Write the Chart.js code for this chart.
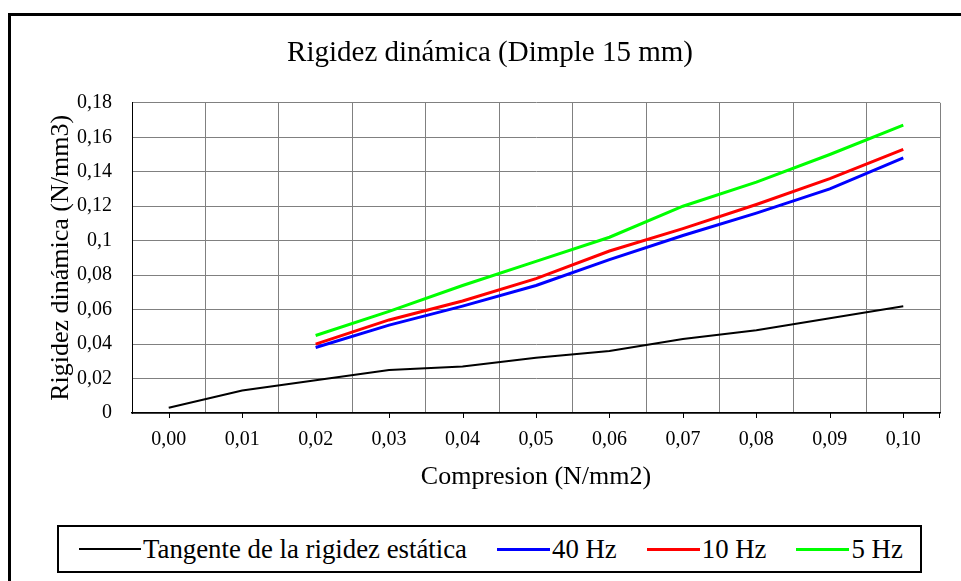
<!DOCTYPE html>
<html>
<head>
<meta charset="utf-8">
<script src="https://cdn.jsdelivr.net/npm/chart.js@4.4.1/dist/chart.umd.min.js"></script>
<style>
    html, body { margin: 0; padding: 0; background: #fff; overflow: hidden; }
    #wrap { position: relative; width: 961px; height: 581px; }
    #frame {
        position: absolute; left: 8px; top: 13px; width: 1000px; height: 1000px;
        border: 3px solid #000; box-sizing: border-box;
    }
    #chart { position: absolute; left: 0; top: 0; }
    #legend {
        position: absolute; left: 57px; top: 525px; width: 865px; height: 48px;
        border: 2px solid #000; box-sizing: border-box; background: #fff;
        display: flex; align-items: center; padding-left: 20px;
        font-family: 'Liberation Serif', serif; font-size: 26.8px; color: #000;
        white-space: nowrap; overflow: hidden;
    }
    .item { display: flex; align-items: center; margin-right: 30px; flex-shrink: 0; }
    .swatch { display: inline-block; width: 53px; height: 3px; margin-right: 2px; flex-shrink: 0; }
</style>
</head>
<body>
<div id="wrap">
    <div id="frame"></div>
    <canvas id="chart" width="961" height="581"></canvas>
    <div id="legend"></div>
</div>
<script>
// Data
const categories = ['0,00', '0,01', '0,02', '0,03', '0,04', '0,05', '0,06', '0,07', '0,08', '0,09', '0,10'];
const tangente = [0.003, 0.013, 0.019, 0.025, 0.027, 0.032, 0.036, 0.043, 0.048, 0.055, 0.062];
const hz40 = [null, null, 0.038, 0.051, 0.062, 0.074, 0.089, 0.103, 0.116, 0.130, 0.148];
const hz10 = [null, null, 0.040, 0.054, 0.065, 0.078, 0.094, 0.107, 0.121, 0.136, 0.153];
const hz5 = [null, null, 0.045, 0.059, 0.074, 0.088, 0.102, 0.120, 0.134, 0.150, 0.167];
const yTickLabels = ['0', '0,02', '0,04', '0,06', '0,08', '0,1', '0,12', '0,14', '0,16', '0,18'];

const FONT = "'Liberation Serif', serif";

// Tick marks at category centres (gridlines sit on the boundaries)
const centreTicks = {
    id: 'centreTicks',
    afterDraw(chart) {
        const x = chart.scales.x;
        const ctx = chart.ctx;
        ctx.save();
        ctx.strokeStyle = '#000';
        ctx.lineWidth = 1;
        ctx.beginPath();
        categories.forEach((c, i) => {
            const px = Math.round(x.getPixelForValue(i)) + 0.5;
            ctx.moveTo(px, x.top);
            ctx.lineTo(px, x.top + 5);
        });
        ctx.moveTo(x.right - 0.5, x.top);
        ctx.lineTo(x.right - 0.5, x.top + 5);
        ctx.stroke();
        ctx.restore();
    }
};

const ctx = document.getElementById('chart').getContext('2d');
const chart = new Chart(ctx, {
    type: 'line',
    data: {
        labels: categories,
        datasets: [{
            label: 'Tangente de la rigidez estática',
            data: tangente,
            borderColor: '#000000',
            borderWidth: 2
        }, {
            label: '40 Hz',
            data: hz40,
            borderColor: '#0000ff',
            borderWidth: 3
        }, {
            label: '10 Hz',
            data: hz10,
            borderColor: '#ff0000',
            borderWidth: 3
        }, {
            label: '5 Hz',
            data: hz5,
            borderColor: '#00ff00',
            borderWidth: 3
        }]
    },
    options: {
        responsive: false,
        animation: false,
        events: [],
        elements: {
            point: { radius: 0 },
            line: { tension: 0, fill: false }
        },
        layout: {
            padding: { left: 40, right: 21, top: 0, bottom: 68 }
        },
        plugins: {
            legend: { display: false },
            tooltip: { enabled: false },
            title: {
                display: true,
                text: 'Rigidez dinámica (Dimple 15 mm)',
                color: '#000',
                font: { family: FONT, size: 29, weight: 'normal' },
                padding: { top: 36, bottom: 32 }
            }
        },
        scales: {
            x: {
                offset: true,
                grid: { offset: true, color: '#808080', lineWidth: 1, drawTicks: false },
                border: { color: '#000', width: 1.5 },
                ticks: {
                    color: '#000',
                    padding: 15,
                    maxRotation: 0,
                    font: { family: FONT, size: 20 }
                },
                title: {
                    display: true,
                    text: 'Compresion (N/mm2)',
                    color: '#000',
                    font: { family: FONT, size: 26 },
                    padding: { top: 0, bottom: 20 }
                },
                afterFit(scale) { scale.height = 100; }
            },
            y: {
                min: 0,
                max: 0.18,
                grid: { color: '#808080', lineWidth: 1, drawTicks: false },
                border: { color: '#000', width: 1 },
                ticks: {
                    stepSize: 0.02,
                    color: '#000',
                    padding: 20,
                    font: { family: FONT, size: 20 },
                    callback: (value, index) => yTickLabels[index]
                },
                title: {
                    display: true,
                    text: 'Rigidez dinámica (N/mm3)',
                    color: '#000',
                    font: { family: FONT, size: 26 },
                    padding: { top: 6, bottom: 0 }
                },
                afterFit(scale) { scale.width = 92; }
            }
        }
    },
    plugins: [centreTicks]
});

// Boxed legend along the bottom, built from the datasets
const legend = document.getElementById('legend');
chart.data.datasets.forEach((ds, i) => {
    const item = document.createElement('div');
    item.className = 'item';
    const sw = document.createElement('span');
    sw.className = 'swatch';
    sw.style.background = ds.borderColor;
    sw.style.height = i === 0 ? '2px' : '3px';
    if (i === 0) sw.style.width = '62px';
    const txt = document.createElement('span');
    txt.textContent = ds.label;
    item.appendChild(sw);
    item.appendChild(txt);
    legend.appendChild(item);
});
</script>
</body>
</html>
